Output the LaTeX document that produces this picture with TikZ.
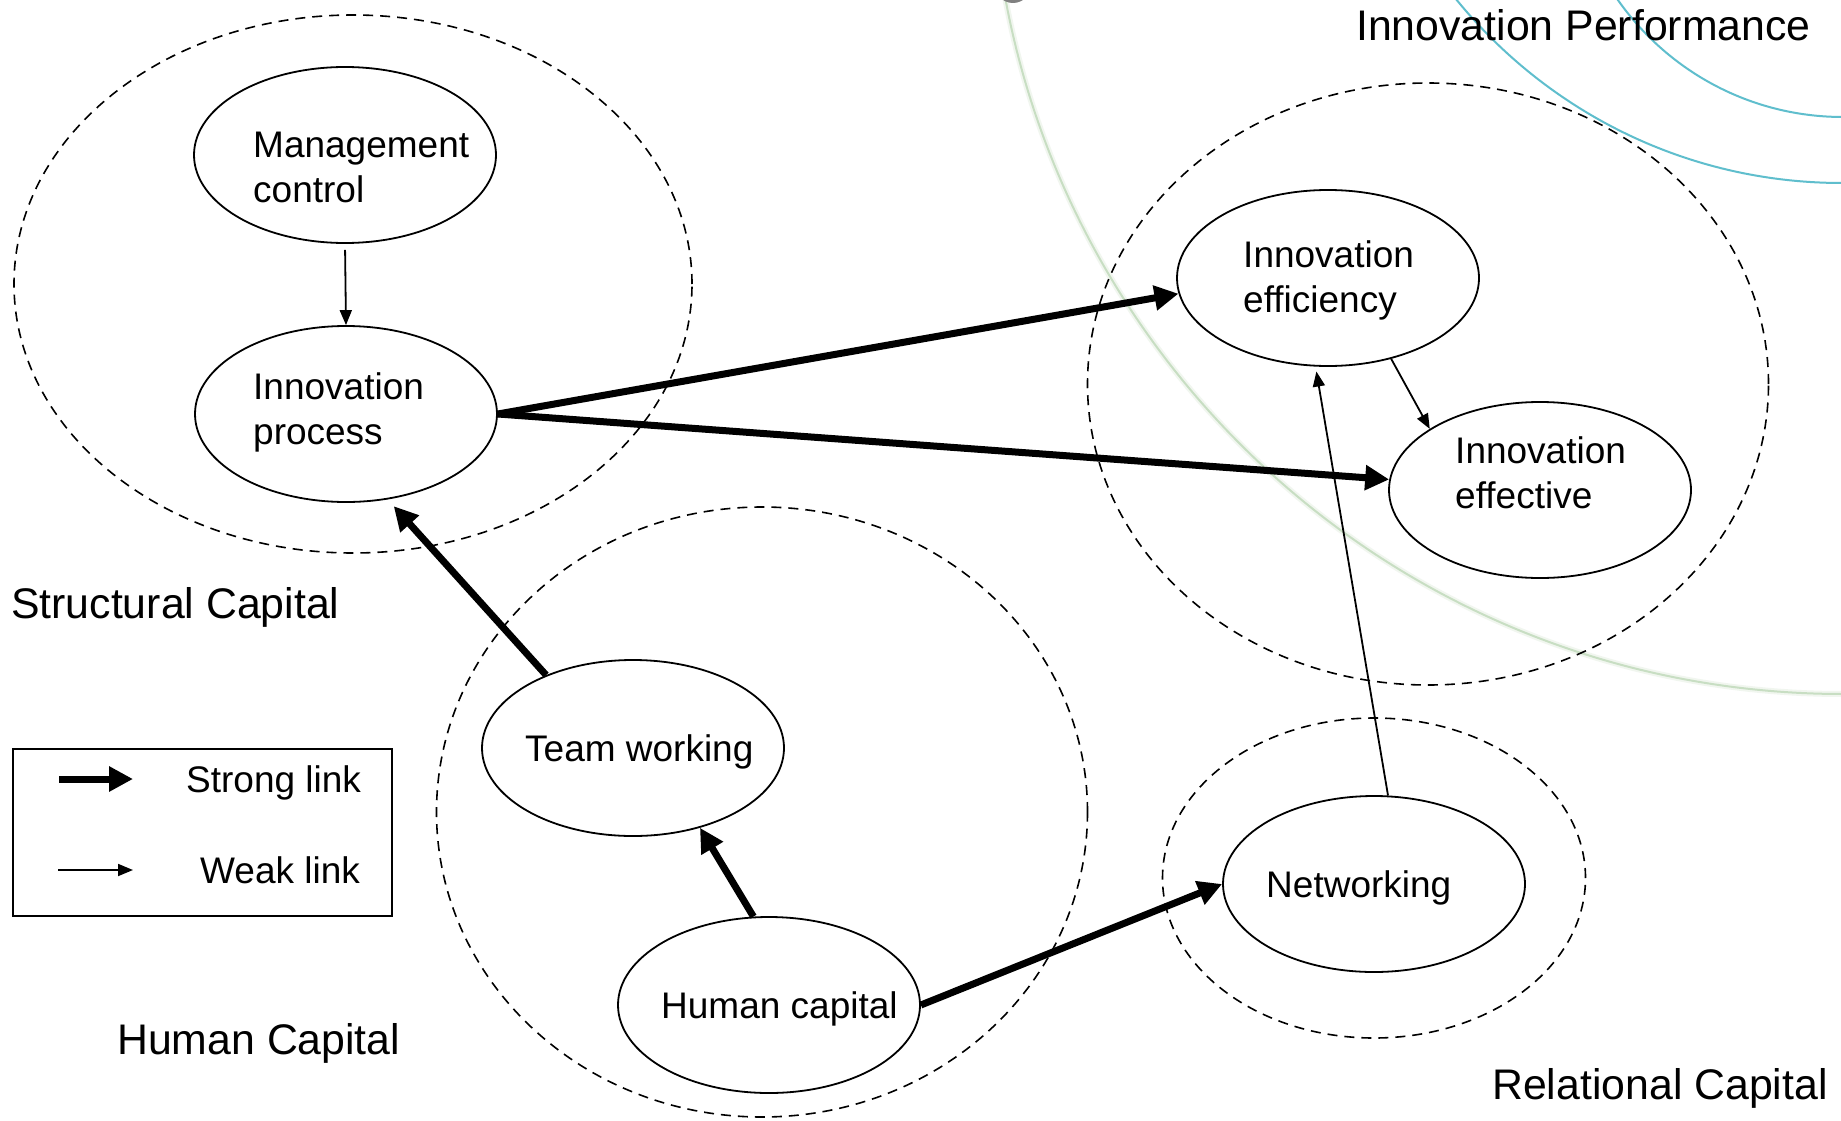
\documentclass[tikz,border=0pt]{standalone}
\usepackage{fontspec}
\setmainfont{Liberation Sans}
\usetikzlibrary{arrows.meta,shapes.geometric}

\definecolor{arcgreen}{RGB}{200,222,195}
\definecolor{arcblue}{RGB}{95,190,205}

\begin{document}
\begin{tikzpicture}[x=1pt,y=-1pt,
  oval/.style={draw, ellipse, line width=1.8pt, minimum width=302pt,
    minimum height=176pt, inner sep=0pt},
  ovaltext/.style={anchor=north west, align=left, inner sep=0pt,
    font=\fontsize{37pt}{45pt}\selectfont},
  group/.style={draw, ellipse, dash pattern=on 10pt off 7pt,
    line width=1.6pt, inner sep=0pt},
  grouplabel/.style={anchor=base west, inner sep=0pt,
    font=\fontsize{42.8pt}{50pt}\selectfont},
  legendtext/.style={anchor=base west, inner sep=0pt,
    font=\fontsize{37pt}{45pt}\selectfont},
  strong/.style={line width=7pt, -{Triangle[length=24pt,width=24pt]}},
  weak/.style={line width=1.8pt, -{Triangle[length=15pt,width=12pt]}},
]
\useasboundingbox (0,0) rectangle (1841,1121);
\fill[white] (0,0) rectangle (1841,1121);

% decorative arcs in the top right corner
\begin{scope}
  \clip (0,0) rectangle (1841,1121);
  \draw[arcgreen, line width=6pt, opacity=0.25] (1843,-158) circle [radius=852pt];
  \draw[arcgreen, line width=2pt] (1843,-158) circle [radius=852pt];
  \draw[arcblue, line width=2pt] (1843,-158) circle [radius=275pt];
  \draw[arcblue, line width=2pt] (1842,-314) circle [radius=497pt];
  \fill[gray] (1013,-15) circle [radius=18pt];
\end{scope}

% capital groups
\node[group, minimum width=678pt, minimum height=538pt] (sc) at (353,284) {};
\node[group, minimum width=651pt, minimum height=610pt] (hc) at (762,812) {};
\node[group, minimum width=423pt, minimum height=320pt] (rc) at (1374,878) {};
\node[group, minimum width=681pt, minimum height=602pt] (ip) at (1428,384) {};

\node[grouplabel] (scL) at (11,618) {Structural Capital};
\node[grouplabel] (hcL) at (117,1054) {Human Capital};
\node[grouplabel] (rcL) at (1492,1099) {Relational Capital};
\node[grouplabel] (ipL) at (1356,41) {Innovation Performance};

% factors
\node[oval] (mgmt) at (345,155) {};
\node[ovaltext] (mgmtT) at (253,132) {Management\\control};
\node[oval] (proc) at (346,414) {};
\node[ovaltext] (procT) at (253,372) {Innovation\\process};
\node[oval] (eff1) at (1328,278) {};
\node[ovaltext] (eff1T) at (1243,240) {Innovation\\efficiency};
\node[oval] (eff2) at (1540,490) {};
\node[ovaltext] (eff2T) at (1455,436) {Innovation\\effective};
\node[oval] (team) at (633,748) {};
\node[ovaltext] (teamT) at (525,734) {Team working};
\node[oval] (hum) at (769,1005) {};
\node[ovaltext] (humT) at (661,991) {Human capital};
\node[oval] (net) at (1374,884) {};
\node[ovaltext] (netT) at (1266,870) {Networking};

% links
\draw[weak, shorten <=6pt] (mgmt.south) -- (proc.north);
\draw[strong] (proc.east) -- (eff1.186);
\draw[strong] (proc.east) -- (eff2.176);
\draw[strong, shorten >=9pt] (team.140) -- (proc.296);
\draw[strong] (hum.100) -- (team.-50);
\draw[strong] (hum.east) -- (net.west);
\draw[weak, shorten >=5pt] (net.81) -- (eff1.-98);
\draw[weak] (eff1.-52) -- (eff2.151);

% legend
\node[draw, line width=1.6pt, minimum width=379pt, minimum height=167pt,
  inner sep=0pt] (legend) at (202.5,832.5) {};
\coordinate (sA) at (59,779);
\coordinate (sB) at (133,779);
\coordinate (wA) at (58,870);
\coordinate (wB) at (133,870);
\draw[strong] (sA) -- (sB);
\draw[weak] (wA) -- (wB);
\node[legendtext] (sT) at (186,792) {Strong link};
\node[legendtext] (wT) at (200,883) {Weak link};
\end{tikzpicture}
\end{document}
